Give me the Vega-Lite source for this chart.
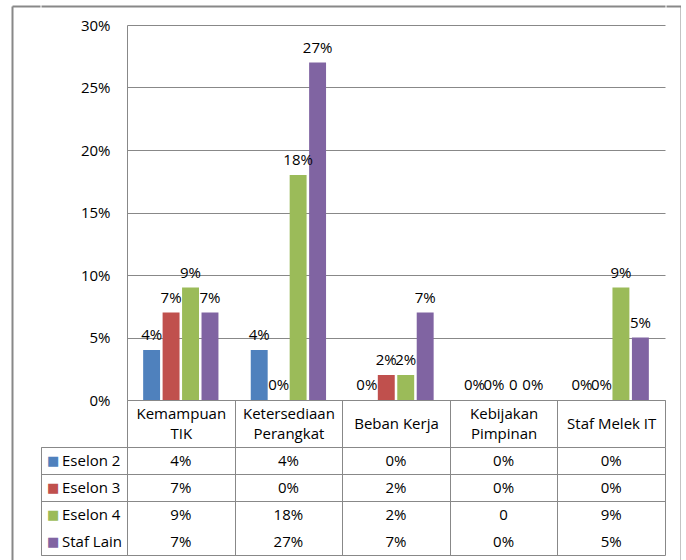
{
  "$schema": "https://vega.github.io/schema/vega-lite/v6.json",
  "padding": {"left": 12, "top": 0, "right": 0, "bottom": 0},
  "bounds": "full",
  "spacing": 0,
  "datasets": {
    "d": [
      {"cat": "Kemampuan TIK", "ser": "Eselon 2", "v": 0.04, "label": "4%"},
      {"cat": "Kemampuan TIK", "ser": "Eselon 3", "v": 0.07, "label": "7%"},
      {"cat": "Kemampuan TIK", "ser": "Eselon 4", "v": 0.09, "label": "9%"},
      {"cat": "Kemampuan TIK", "ser": "Staf Lain", "v": 0.07, "label": "7%"},
      {"cat": "Ketersediaan Perangkat", "ser": "Eselon 2", "v": 0.04, "label": "4%"},
      {"cat": "Ketersediaan Perangkat", "ser": "Eselon 3", "v": 0, "label": "0%"},
      {"cat": "Ketersediaan Perangkat", "ser": "Eselon 4", "v": 0.18, "label": "18%"},
      {"cat": "Ketersediaan Perangkat", "ser": "Staf Lain", "v": 0.27, "label": "27%"},
      {"cat": "Beban Kerja", "ser": "Eselon 2", "v": 0, "label": "0%"},
      {"cat": "Beban Kerja", "ser": "Eselon 3", "v": 0.02, "label": "2%"},
      {"cat": "Beban Kerja", "ser": "Eselon 4", "v": 0.02, "label": "2%"},
      {"cat": "Beban Kerja", "ser": "Staf Lain", "v": 0.07, "label": "7%"},
      {"cat": "Kebijakan Pimpinan", "ser": "Eselon 2", "v": 0, "label": "0%"},
      {"cat": "Kebijakan Pimpinan", "ser": "Eselon 3", "v": 0, "label": "0%"},
      {"cat": "Kebijakan Pimpinan", "ser": "Eselon 4", "v": 0, "label": "0"},
      {"cat": "Kebijakan Pimpinan", "ser": "Staf Lain", "v": 0, "label": "0%"},
      {"cat": "Staf Melek IT", "ser": "Eselon 2", "v": 0, "label": "0%"},
      {"cat": "Staf Melek IT", "ser": "Eselon 3", "v": 0, "label": "0%"},
      {"cat": "Staf Melek IT", "ser": "Eselon 4", "v": 0.09, "label": "9%"},
      {"cat": "Staf Melek IT", "ser": "Staf Lain", "v": 0.05, "label": "5%"}
    ]
  },
  "hconcat": [
    {
      "data": {"values": [{}]},
      "width": 28,
      "height": 560,
      "mark": {"type": "text", "text": ""},
      "encoding": {
        "x": {"datum": 0, "type": "quantitative", "axis": {"orient": "top", "title": null, "labels": false, "ticks": false, "grid": false, "domainColor": "#888888", "domainWidth": 2}},
        "y": {"datum": 0, "type": "quantitative", "axis": {"orient": "left", "title": null, "labels": false, "ticks": false, "grid": false, "domainColor": "#888888", "domainWidth": 2}}
      }
    },
    {
      "bounds": "flush",
      "spacing": 0,
      "vconcat": [
        {
          "data": {"values": [{}]},
          "width": 624,
          "height": 19,
          "mark": {"type": "text", "text": ""},
          "encoding": {
            "x": {"datum": 0, "type": "quantitative", "axis": {"orient": "top", "title": null, "labels": false, "ticks": false, "grid": false, "domainColor": "#888888", "domainWidth": 2}}
          }
        },
        {
          "bounds": "flush",
          "columns": 2,
          "spacing": {"row": 47, "column": 0},
          "concat": [
            {
              "data": {"values": [{}]},
              "width": 86,
              "height": 375,
              "mark": {"type": "text", "text": ""}
            },
            {
              "data": {"name": "d"},
              "width": 538,
              "height": 375,
              "encoding": {
                "x": {
                  "field": "cat", "type": "nominal",
                  "sort": ["Kemampuan TIK", "Ketersediaan Perangkat", "Beban Kerja", "Kebijakan Pimpinan", "Staf Melek IT"],
                  "scale": {"paddingInner": 0, "paddingOuter": 0},
                  "axis": {
                    "title": null, "tickBand": "extent", "tickSize": 47, "tickColor": "#888888",
                    "domainColor": "#888888",
                    "labelPadding": {"condition": {"test": "datum.value == 'Beban Kerja' || datum.value == 'Staf Melek IT'", "value": -23.5}, "value": -33.5},
                    "labelBaseline": "middle",
                    "labelFontSize": 15, "labelLineHeight": 20, "labelAngle": 0, "labelColor": "black",
                    "labelLimit": 200,
                    "labelExpr": "(datum.label == 'Beban Kerja' || datum.label == 'Staf Melek IT') ? datum.label : split(datum.label, ' ')"
                  }
                },
                "xOffset": {
                  "field": "ser", "type": "nominal",
                  "sort": ["Eselon 2", "Eselon 3", "Eselon 4", "Staf Lain"],
                  "scale": {"paddingInner": 0.13, "paddingOuter": 0.83}
                },
                "y": {
                  "field": "v", "type": "quantitative",
                  "scale": {"domain": [0, 0.3]},
                  "axis": {
                    "title": null, "format": "%", "values": [0, 0.05, 0.1, 0.15, 0.2, 0.25, 0.3],
                    "domainColor": "#888888", "ticks": false, "grid": true, "gridColor": "#888888",
                    "labelPadding": 17, "labelFontSize": 15, "labelColor": "black"
                  }
                }
              },
              "layer": [
                {
                  "mark": {"type": "bar"},
                  "encoding": {
                    "color": {
                      "field": "ser", "type": "nominal",
                      "scale": {"domain": ["Eselon 2", "Eselon 3", "Eselon 4", "Staf Lain"], "range": ["#4F81BD", "#C0504D", "#9BBB59", "#8064A2"]},
                      "legend": null
                    }
                  }
                },
                {
                  "mark": {"type": "text", "baseline": "bottom", "dy": -7, "fontSize": 15, "color": "black"},
                  "encoding": {"text": {"field": "label"}}
                }
              ]
            },
            {
              "data": {"name": "d"},
              "transform": [{"filter": "datum.cat == 'Kemampuan TIK'"}],
              "width": 86,
              "height": 108,
              "view": {"stroke": "#888888"},
              "encoding": {
                "y": {
                  "field": "ser", "type": "nominal",
                  "sort": ["Eselon 2", "Eselon 3", "Eselon 4", "Staf Lain"],
                  "scale": {"paddingInner": 0, "paddingOuter": 0},
                  "axis": {
                    "title": null, "labels": false, "ticks": false, "domain": false, "grid": true,
                    "tickBand": "extent", "gridColor": "#888888",
                    "gridOpacity": {"condition": {"test": "datum.value === 'Eselon 4'", "value": 0}, "value": 1}
                  }
                }
              },
              "layer": [
                {
                  "mark": {"type": "text", "text": "■", "font": "DejaVu Sans", "fontSize": 13, "align": "left", "dx": -37},
                  "encoding": {
                    "color": {"field": "ser", "type": "nominal", "legend": null}
                  }
                },
                {
                  "mark": {"type": "text", "align": "left", "dx": -22, "fontSize": 15, "color": "black"},
                  "encoding": {"text": {"field": "ser"}}
                }
              ]
            },
            {
              "data": {"name": "d"},
              "width": 538,
              "height": 108,
              "mark": {"type": "text", "fontSize": 15, "color": "black"},
              "encoding": {
                "x": {
                  "field": "cat", "type": "nominal",
                  "sort": ["Kemampuan TIK", "Ketersediaan Perangkat", "Beban Kerja", "Kebijakan Pimpinan", "Staf Melek IT"],
                  "scale": {"paddingInner": 0, "paddingOuter": 0},
                  "axis": {
                    "title": null, "labels": false, "ticks": false, "domain": false, "grid": true,
                    "tickBand": "extent", "gridColor": "#888888"
                  }
                },
                "y": {
                  "field": "ser", "type": "nominal",
                  "sort": ["Eselon 2", "Eselon 3", "Eselon 4", "Staf Lain"],
                  "scale": {"paddingInner": 0, "paddingOuter": 0},
                  "axis": {
                    "title": null, "labels": false, "ticks": false, "domain": false, "grid": true,
                    "tickBand": "extent", "gridColor": "#888888",
                    "gridOpacity": {"condition": {"test": "datum.value === 'Eselon 4'", "value": 0}, "value": 1}
                  }
                },
                "text": {"field": "label"}
              }
            }
          ]
        }
      ]
    },
    {
      "data": {"values": [{}]},
      "width": 15,
      "height": 560,
      "mark": {"type": "text", "text": ""},
      "encoding": {
        "x": {"datum": 0, "type": "quantitative", "axis": {"orient": "top", "title": null, "labels": false, "ticks": false, "grid": false, "domainColor": "#888888", "domainWidth": 2}},
        "y": {"datum": 0, "type": "quantitative", "axis": {"orient": "right", "title": null, "labels": false, "ticks": false, "grid": false, "domainColor": "#888888", "domainWidth": 2}}
      }
    }
  ],
  "config": {
    "font": "Open Sans",
    "view": {"stroke": null},
    "axis": {"gridWidth": 1, "domainWidth": 1, "tickWidth": 1}
  }
}
